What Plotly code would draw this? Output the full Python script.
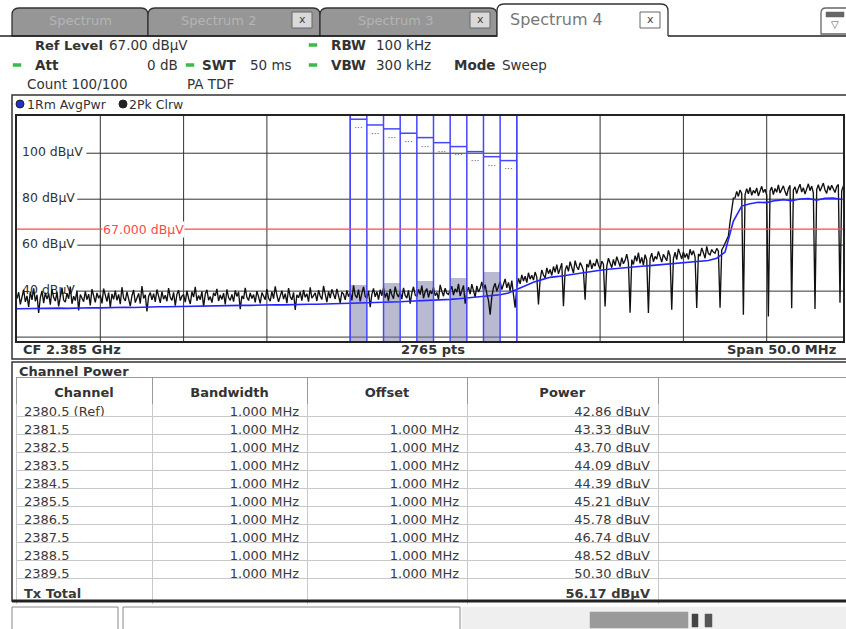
import plotly.graph_objects as go

W, H = 846, 629
FONT = "DejaVu Sans"
TXT = "#333333"

# ---------------- data ----------------
sweep_start_mhz = 2360.0
sweep_step_mhz = 0.1
trace2_pk_clrw_dbuv = [
    36.8, 39.5, 34.2, 38.1, 40.6, 35.3, 37.9, 33.1, 39.8, 36.2,
    41.2, 35.6, 38.4, 30.5, 37.2, 40.1, 34.8, 39.3, 36.5, 38.9,
    34.1, 40.8, 37.3, 35.7, 39.6, 33.4, 38.2, 41.5, 36.1, 35.2,
    39.1, 36.7, 42.0, 34.5, 37.8, 35.9, 40.3, 31.6, 38.5, 37.1,
    35.4, 39.9, 36.3, 38.7, 33.8, 40.9, 37.5, 35.1, 39.2, 36.9,
    38.3, 34.7, 41.1, 37.6, 35.5, 39.4, 32.9, 38.8, 36.4, 40.2,
    36.0, 38.6, 34.3, 41.7, 37.0, 35.8, 39.7, 36.6, 33.5, 38.0,
    40.5, 35.0, 37.4, 39.0, 34.6, 42.2, 36.8, 38.4, 31.2, 37.7,
    39.4, 36.2, 38.9, 35.3, 40.7, 37.1, 34.9, 39.8, 36.5, 38.2,
    35.6, 41.3, 37.3, 36.0, 39.5, 33.7, 38.6, 40.4, 35.9, 37.8,
    38.5, 35.2, 40.1, 36.9, 34.4, 39.7, 37.4, 41.9, 35.8, 38.1,
    36.3, 39.9, 33.2, 38.7, 40.6, 36.1, 37.6, 35.0, 39.3, 37.9,
    41.0, 35.7, 38.3, 36.4, 39.1, 34.2, 40.8, 37.2, 36.0, 38.6,
    35.4, 40.3, 37.7, 39.6, 32.1, 38.0, 36.6, 41.4, 37.3, 35.9,
    39.2, 36.8, 38.5, 35.1, 40.0, 37.5, 34.7, 39.4, 38.1, 36.3,
    40.9, 37.0, 35.6, 39.8, 36.7, 42.1, 38.2, 35.3, 37.8, 40.2,
    36.5, 38.9, 34.8, 41.3, 37.6, 36.2, 39.5, 31.8, 38.4, 37.1,
    39.7, 35.9, 40.5, 37.3, 38.8, 35.4, 41.6, 36.9, 38.0, 39.2,
    35.7, 40.4, 37.9, 36.4, 42.3, 38.3, 35.2, 39.9, 37.0, 40.8,
    38.1, 36.6, 41.0, 37.4, 34.9, 39.6, 38.7, 36.2, 40.3, 37.6,
    39.4, 36.0, 42.5, 38.2, 37.1, 40.7, 35.5, 39.0, 41.8, 37.8,
    36.9, 40.1, 33.0, 38.6, 41.2, 37.5, 39.8, 36.3, 40.6, 38.0,
    41.5, 37.2, 39.3, 35.8, 40.9, 38.4, 36.7, 42.0, 38.9, 37.4,
    39.9, 36.5, 41.4, 38.1, 37.0, 40.3, 34.6, 39.2, 41.9, 38.3,
    37.6, 40.8, 38.5, 42.4, 36.9, 39.7, 41.1, 37.3, 40.2, 38.8,
    41.6, 38.0, 39.4, 36.4, 42.7, 40.0, 37.8, 41.3, 39.1, 38.6,
    40.5, 42.1, 38.3, 41.0, 39.5, 43.2, 37.9, 40.8, 42.5, 34.5,
    39.8, 41.7, 38.7, 43.0, 40.2, 37.4, 42.3, 39.6, 41.1, 44.0,
    40.4, 42.8, 38.9, 36.0, 29.8, 37.5, 41.5, 43.4, 39.9, 42.2,
    44.1, 40.7, 42.9, 45.3, 41.4, 43.8, 40.1, 44.6, 38.5, 32.8,
    42.0, 45.6, 43.2, 47.1, 44.4, 46.5, 43.7, 48.0, 45.2, 46.9,
    44.8, 48.3, 46.1, 34.2, 45.0, 49.2, 47.0, 45.7, 50.1, 47.6,
    49.4, 46.8, 50.7, 48.2, 51.5, 47.5, 49.8, 52.1, 33.4, 48.9,
    51.2, 48.6, 52.8, 50.0, 47.9, 53.3, 50.6, 49.3, 52.4, 51.0,
    48.8, 36.3, 51.8, 50.4, 53.6, 49.7, 52.2, 50.9, 54.0, 51.4,
    49.6, 53.1, 51.7, 33.3, 50.8, 54.3, 52.0, 50.2, 53.8, 51.1,
    55.0, 52.5, 50.7, 54.6, 51.9, 53.4, 56.1, 52.3, 30.6, 53.7,
    51.6, 55.4, 53.0, 56.8, 52.1, 54.7, 51.3, 55.9, 53.5, 30.5,
    54.2, 56.5, 52.8, 55.1, 53.9, 57.3, 54.5, 52.6, 56.0, 54.8,
    53.2, 57.7, 55.3, 31.9, 54.1, 56.9, 53.7, 58.4, 55.6, 54.0,
    57.1, 54.6, 56.4, 53.8, 58.2, 55.7, 57.6, 54.9, 32.7, 56.2,
    55.2, 58.8, 56.7, 54.3, 59.5, 56.3, 55.8, 58.1, 57.0, 56.5,
    58.6, 57.4, 32.8, 57.9, 59.2, 60.8, 62.5, 64.0, 70.0, 76.5,
    80.5, 80.6, 83.4, 81.2, 84.0, 82.5, 29.7, 81.9, 84.6, 82.3,
    85.1, 81.7, 83.8, 82.6, 84.9, 81.4, 83.2, 85.6, 82.9, 84.3,
    81.8, 29.0, 83.6, 85.3, 82.0, 84.7, 83.0, 86.2, 82.7, 84.1,
    85.8, 83.3, 81.5, 84.5, 86.0, 32.5, 83.9, 85.4, 82.4, 84.8,
    86.5, 83.1, 85.0, 82.2, 84.4, 86.7, 83.7, 85.7, 82.8, 32.2,
    84.2, 86.3, 83.5, 85.2, 87.0, 84.0, 82.5, 85.9, 83.9, 86.1,
    84.6, 82.9, 85.5, 86.4, 34.9, 83.6, 85.8, 84.3, 86.8, 83.4,
]

trace1_start_mhz = 2360.0
trace1_step_mhz = 0.5
trace1_rm_avgpwr_dbuv = [
    32.3, 32.4, 32.2, 32.5, 32.4, 32.6, 32.5, 32.7, 32.6, 32.8,
    32.7, 32.9, 32.8, 33.0, 32.9, 33.1, 33.0, 33.2, 33.2, 33.3,
    33.3, 33.5, 33.4, 33.6, 33.5, 33.7, 33.7, 33.8, 33.8, 34.0,
    33.9, 34.1, 34.0, 34.2, 34.1, 34.3, 34.3, 34.4, 34.4, 34.6,
    34.5, 34.7, 34.8, 35.0, 35.1, 35.3, 35.4, 35.6, 35.7, 35.9,
    36.0, 36.2, 36.4, 36.7, 37.0, 37.3, 37.6, 38.0, 38.4, 39.2,
    40.8, 42.5, 43.9, 45.0, 46.0, 46.4, 47.0, 47.6, 48.1, 48.7,
    49.1, 49.5, 49.9, 50.2, 50.5, 50.8, 51.1, 51.4, 51.6, 51.9,
    52.1, 52.4, 52.8, 53.3, 54.3, 57.0, 70.5, 77.0, 78.0, 78.7,
    78.5, 79.4, 79.8, 79.3, 80.1, 80.3, 79.6, 80.4, 80.5, 79.9,
]

channel_labels = ["2380.5 (Ref)", "2381.5", "2382.5", "2383.5", "2384.5",
                  "2385.5", "2386.5", "2387.5", "2388.5", "2389.5"]
channel_center_mhz = [2380.5, 2381.5, 2382.5, 2383.5, 2384.5,
                      2385.5, 2386.5, 2387.5, 2388.5, 2389.5]
channel_bandwidth_mhz = [1.0, 1.0, 1.0, 1.0, 1.0, 1.0, 1.0, 1.0, 1.0, 1.0]
channel_offset_mhz = [None, 1.0, 1.0, 1.0, 1.0, 1.0, 1.0, 1.0, 1.0, 1.0]
channel_power_dbuv = [42.86, 43.33, 43.70, 44.09, 44.39, 45.21, 45.78, 46.74, 48.52, 50.30]
tx_total_dbuv = 56.17
channel_box_top_dbuv = [114.8, 112.3, 110.6, 108.7, 106.8, 104.6, 102.9, 100.7, 98.5, 96.8]
table_headers = ["Channel", "Bandwidth", "Offset", "Power", ""]

limit_line_dbuv = 67.0
grid_level_dbuv = [20, 40, 60, 80, 100]
grid_level_labels = ["", "40 dBµV", "60 dBµV", "80 dBµV", "100 dBµV"]
grid_freq_mhz = [2365, 2370, 2375, 2380, 2385, 2390, 2395, 2400, 2405]
center_freq_ghz = 2.385
span_mhz = 50.0
sweep_points = 2765

# ---------------- helpers (pixel -> paper) ----------------
def X(v):
    return v / W

def Y(v):
    return 1 - v / H

annotations = []
shapes = []

def text(x, y, s, size=13, color=TXT, bold=False, anchor="left", bg=None):
    a = dict(x=X(x), y=Y(y), xref="paper", yref="paper",
             text=("<b>%s</b>" % s) if bold else s, showarrow=False,
             xanchor=anchor, yanchor="middle",
             font=dict(family=FONT, size=size, color=color))
    if bg:
        a["bgcolor"] = bg
    annotations.append(a)

def rect(x0, y0, x1, y1, fill="rgba(0,0,0,0)", line="#333", lw=1.0, layer="above"):
    shapes.append(dict(type="rect", xref="paper", yref="paper",
                       x0=X(x0), y0=Y(y1), x1=X(x1), y1=Y(y0),
                       fillcolor=fill, line=dict(color=line, width=lw), layer=layer))

def hline(x0, x1, y, color="#333", lw=1.0):
    shapes.append(dict(type="line", xref="paper", yref="paper",
                       x0=X(x0), x1=X(x1), y0=Y(y), y1=Y(y),
                       line=dict(color=color, width=lw)))

def tab(x0, x1, ytop, ybot, fill, line="#333", r=7, closed=True):
    p = (f"M {X(x0)},{Y(ybot)} L {X(x0)},{Y(ytop + r)} Q {X(x0)},{Y(ytop)} {X(x0 + r)},{Y(ytop)} "
         f"L {X(x1 - r)},{Y(ytop)} Q {X(x1)},{Y(ytop)} {X(x1)},{Y(ytop + r)} L {X(x1)},{Y(ybot)}")
    if closed:
        p += " Z"
    shapes.append(dict(type="path", xref="paper", yref="paper", path=p,
                       fillcolor=fill, line=dict(color=line, width=1.3)))

def green(x, y):
    rect(x, y - 1.5, x + 8, y + 1.5, fill="#3db84a", line="#3db84a", lw=0.5)

# ---------------- plot geometry ----------------
PL, PR, PT, PB = 17, 843, 116, 341
x_lo = center_freq_ghz * 1000 - span_mhz / 2
x_hi = x_lo + span_mhz * (PR - PL) / 833.0
y_lo, y_hi = 18.3, 116.2

fig = go.Figure()

# grid level labels (drawn under the traces)
fig.add_trace(go.Scatter(
    x=[x_lo + 0.3] * len(grid_level_dbuv), y=grid_level_dbuv, mode="text",
    text=grid_level_labels, textposition="middle right",
    textfont=dict(family=FONT, size=12.5, color=TXT), hoverinfo="skip", showlegend=False))

# channel power bars (alternate channels shaded)
bar_colors = ["rgba(115,115,165,0.5)" if i % 2 == 0 else "rgba(0,0,0,0)"
              for i in range(len(channel_center_mhz))]
fig.add_trace(go.Bar(x=channel_center_mhz, y=channel_power_dbuv, width=channel_bandwidth_mhz,
                     marker=dict(color=bar_colors, line=dict(width=0)),
                     hoverinfo="skip", showlegend=False))

# traces
f2 = [sweep_start_mhz + i * sweep_step_mhz for i in range(len(trace2_pk_clrw_dbuv))]
fig.add_trace(go.Scatter(x=f2, y=trace2_pk_clrw_dbuv, mode="lines",
                         line=dict(color="#111111", width=1.35), showlegend=False))
f1 = [trace1_start_mhz + i * trace1_step_mhz for i in range(len(trace1_rm_avgpwr_dbuv))]
fig.add_trace(go.Scatter(x=f1, y=trace1_rm_avgpwr_dbuv, mode="lines",
                         line=dict(color="#2424ff", width=1.6), showlegend=False))

# channel boxes: top lines + small labels
bx, by = [], []
for c, bw, top in zip(channel_center_mhz, channel_bandwidth_mhz, channel_box_top_dbuv):
    bx += [c - bw / 2, c + bw / 2, None]
    by += [top, top, None]
fig.add_trace(go.Scatter(x=bx, y=by, mode="lines", line=dict(color="#4646ff", width=1.5),
                         hoverinfo="skip", showlegend=False))
fig.add_trace(go.Scatter(x=channel_center_mhz, y=[t - 4.2 for t in channel_box_top_dbuv],
                         mode="text", text=["···"] * len(channel_center_mhz),
                         textfont=dict(family=FONT, size=9, color="#555"),
                         hoverinfo="skip", showlegend=False))

# grid lines
for f in grid_freq_mhz:
    shapes.append(dict(type="line", xref="x", yref="y domain", x0=f, x1=f, y0=0, y1=1,
                       line=dict(color="#333", width=1), layer="below"))
for lvl, lab in zip(grid_level_dbuv, grid_level_labels):
    start = 0.0 if not lab else (0.084 if len(lab) > 7 else 0.073)
    shapes.append(dict(type="line", xref="x domain", yref="y", x0=start, x1=1, y0=lvl, y1=lvl,
                       line=dict(color="#333", width=1), layer="below"))

# channel edges (full height)
edges = sorted(set([round(c - bw / 2, 3) for c, bw in zip(channel_center_mhz, channel_bandwidth_mhz)] +
                   [round(c + bw / 2, 3) for c, bw in zip(channel_center_mhz, channel_bandwidth_mhz)]))
for e in edges:
    shapes.append(dict(type="line", xref="x", yref="y domain", x0=e, x1=e, y0=0, y1=1,
                       line=dict(color="#4646ff", width=1.5)))

# limit line
shapes.append(dict(type="line", xref="x domain", yref="y", x0=0, x1=1,
                   y0=limit_line_dbuv, y1=limit_line_dbuv, line=dict(color="#ff4a4a", width=1.3)))
annotations.append(dict(x=(102 - PL) / (PR - PL), y=limit_line_dbuv, xref="x domain", yref="y",
                        text="%.3f dBµV" % limit_line_dbuv, showarrow=False, xanchor="left",
                        yanchor="middle", bgcolor="white", borderpad=0,
                        font=dict(family=FONT, size=12.5, color="#ff4a4a")))

# ---------------- UI chrome ----------------
tab(12, 148, 8, 36, "#969696")
tab(148, 320, 8, 36, "#969696")
tab(320, 497, 8, 36, "#969696")
text(80, 21, "Spectrum", size=13, color="#b4b4b4", anchor="center")
text(218, 21, "Spectrum 2", size=13, color="#b4b4b4", anchor="center")
text(395, 21, "Spectrum 3", size=13, color="#b4b4b4", anchor="center")
hline(0, 497, 36, color="#222", lw=1.5)
hline(668, 846, 36, color="#222", lw=1.5)
tab(497, 668, 4, 36, "white", closed=False)
text(508, 20, "Spectrum 4", size=16, color="#777")
for bx0, fill in [(292, "#d9d9d9"), (470, "#d9d9d9"), (640, "white")]:
    rect(bx0, 12, bx0 + 20, 28, fill=fill, line="#666", lw=1)
    text(bx0 + 10, 20, "x", size=11, color="#444", anchor="center")
tab(821, 852, 8, 34, "white", line="#666", r=5)
rect(826, 12, 844, 17, fill="#666", line="#666", lw=0.5)
text(835, 25, "▽", size=10, color="#555", anchor="center")

# header info
text(33, 45, "Ref Level", bold=True, size=13)
text(107, 45, "67.00 dBµV", size=13.5)
green(309, 45)
text(329, 45, "RBW", bold=True, size=13.5)
text(374, 45, "100 kHz", size=13.5)
green(13, 65)
text(33, 65, "Att", bold=True, size=13.5)
text(180, 65, "0 dB", size=13.5, anchor="right")
green(186, 65)
text(200, 65, "SWT", bold=True, size=13.5)
text(248, 65, "50 ms", size=13.5)
green(309, 65)
text(329, 65, "VBW", bold=True, size=13.5)
text(374, 65, "300 kHz", size=13.5)
text(452, 65, "Mode", bold=True, size=13.5)
text(500, 65, "Sweep", size=13.5)
text(25, 84, "Count 100/100", size=13.5)
text(185, 84, "PA TDF", size=13.5)

# diagram frame
rect(12, 95, 850, 359, line="#333", lw=1.5)
shapes.append(dict(type="circle", xref="paper", yref="paper",
                   x0=X(16), x1=X(24), y0=Y(108), y1=Y(100),
                   fillcolor="#2030d0", line=dict(color="#222", width=1)))
text(25, 104, "1Rm AvgPwr", size=12.5)
shapes.append(dict(type="circle", xref="paper", yref="paper",
                   x0=X(119), x1=X(127), y0=Y(108), y1=Y(100),
                   fillcolor="#222", line=dict(color="#222", width=1)))
text(127, 104, "2Pk Clrw", size=12.5)

text(21, 350, "CF %.3f GHz" % center_freq_ghz, bold=True)
text(433, 350, "%d pts" % sweep_points, bold=True, anchor="center")
text(838, 350, "Span %.1f MHz" % span_mhz, bold=True, anchor="right")

# table frame
rect(12, 362, 850, 601, line="#333", lw=1.5)
hline(12, 846, 601, color="#222", lw=3)
text(17, 371, "Channel Power", bold=True)

# status bar
rect(12, 607, 118, 632, fill="white", line="#888", lw=1)
rect(123, 607, 460, 632, fill="white", line="#888", lw=1)
rect(462, 607, 846, 632, fill="#efefef", line="#efefef", lw=0.5)
rect(590, 612, 688, 628, fill="#9a9a9a", line="#9a9a9a", lw=0.5)
rect(692, 614, 698, 627, fill="#444", line="#444", lw=0.5)
rect(705, 614, 712, 627, fill="#555", line="#555", lw=0.5)

# ---------------- table ----------------
def mhz(v):
    return "" if v is None else "%.3f MHz" % v

col_channel = channel_labels + ["<b>Tx Total</b>"]
col_bw = [mhz(v) for v in channel_bandwidth_mhz] + [""]
col_off = [mhz(v) for v in channel_offset_mhz] + [""]
col_pow = ["%.2f dBµV" % v for v in channel_power_dbuv] + ["<b>%.2f dBµV</b>" % tx_total_dbuv]
col_blank = [""] * len(col_channel)
col_widths = [136, 155, 160, 191, 188]
ROW = 18
n_data = len(col_channel)
no_header = dict(values=[], fill_color="rgba(0,0,0,0)",
                 line=dict(color="rgba(0,0,0,0)", width=0))
TITLE_DOMAIN_TOP = 361   # gives a title row centred near y=392
DATA_DOMAIN_TOP = 382    # gives the first channel row centred near y=411

# channel rows
fig.add_trace(go.Table(
    domain=dict(x=[X(16), X(846)],
                y=[Y(DATA_DOMAIN_TOP + 20 + ROW * n_data + 4), Y(DATA_DOMAIN_TOP)]),
    columnwidth=col_widths, header=no_header,
    cells=dict(values=[col_channel, col_bw, col_off, col_pow, col_blank],
               align=["left", "right", "right", "right", "left"],
               fill_color="white", height=ROW,
               line=dict(color="#c8c8c8", width=1),
               font=dict(family=FONT, size=13, color="#3a3a3a")),
))
# title row (centered)
fig.add_trace(go.Table(
    domain=dict(x=[X(16), X(846)], y=[Y(TITLE_DOMAIN_TOP + 22 + ROW + 3), Y(TITLE_DOMAIN_TOP)]),
    columnwidth=col_widths, header=no_header,
    cells=dict(values=[[("<b>%s</b>" % h) if h else ""] for h in table_headers],
               align="center", fill_color="white", height=ROW,
               line=dict(color="#9a9a9a", width=1),
               font=dict(family=FONT, size=13, color=TXT)),
))

fig.update_layout(
    width=W, height=H, margin=dict(l=0, r=0, t=0, b=0),
    paper_bgcolor="white", plot_bgcolor="white",
    showlegend=False, bargap=0,
    xaxis=dict(domain=[X(PL), X(PR)], range=[x_lo, x_hi], showgrid=False, zeroline=False,
               showticklabels=False, ticks="", showline=True, mirror=True,
               linecolor="#222", linewidth=2),
    yaxis=dict(domain=[Y(PB), Y(PT)], range=[y_lo, y_hi], showgrid=False, zeroline=False,
               showticklabels=False, ticks="", showline=True, mirror=True,
               linecolor="#222", linewidth=2),
    shapes=shapes, annotations=annotations,
)

fig.write_html("out.html", config={"displayModeBar": False},
               post_script="document.body.style.margin='0';document.body.style.overflow='hidden';")
